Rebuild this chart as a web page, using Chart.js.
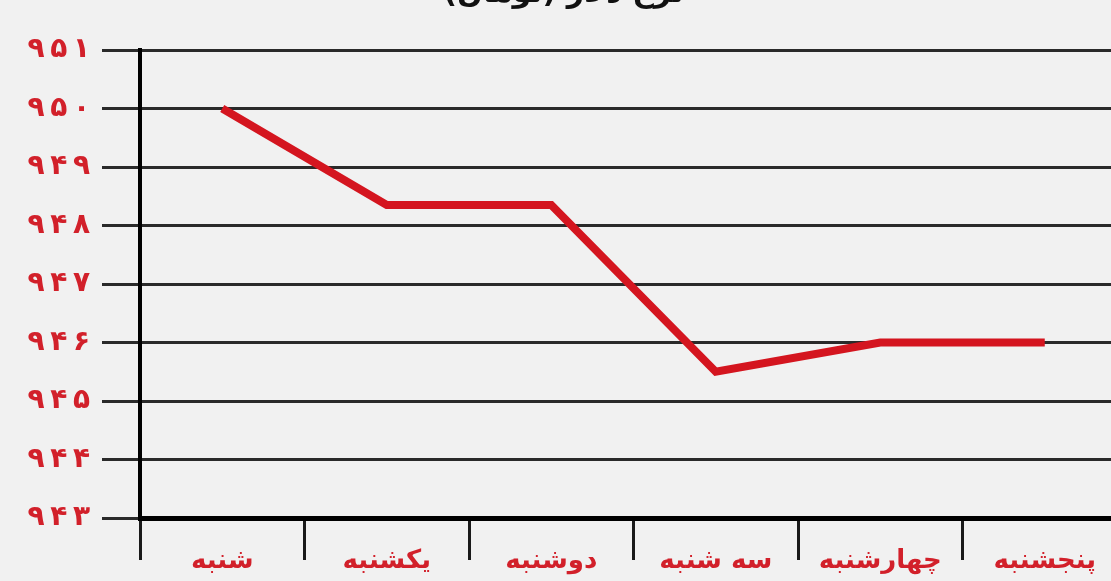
<!DOCTYPE html>
<html lang="fa">
<head>
<meta charset="utf-8">
<script src="https://cdn.jsdelivr.net/npm/chart.js@4"></script>
<style>
  html, body { margin: 0; padding: 0; background: #f1f1f1; overflow: hidden; }
  #wrap { position: absolute; left: 0; top: -28px; width: 1130px; height: 609px; }
</style>
</head>
<body>
<div id="wrap"><canvas id="chart1"></canvas></div>
<script>
// days of the week (Saturday .. Thursday)
const days = ['شنبه', 'یکشنبه', 'دوشنبه', 'سه شنبه', 'چهارشنبه', 'پنجشنبه'];
const prices = [950, 948.35, 948.35, 945.5, 946, 946];
const yMin = 943;
const yMax = 951;

const faDigits = '۰۱۲۳۴۵۶۷۸۹';
function toFa(n) {
    // persian digits with a thin gap, like the original artwork
    return String(n).replace(/\d/g, d => faDigits[d]).split('').join('\u2009');
}

const red = '#d2202a';

var ctx1 = document.getElementById('chart1').getContext('2d');

var chart1 = new Chart(ctx1, {
    type: 'line',
    data: {
        labels: days,
        datasets: [{
            data: prices,
            borderColor: '#d4151f',
            borderWidth: 8,
            pointRadius: 0,
            tension: 0,
            fill: false
        }]
    },
    options: {
        responsive: true,
        maintainAspectRatio: false,
        animation: false,
        layout: { padding: { left: 0, right: 3, top: 0, bottom: 0 } },
        plugins: {
            legend: { display: false },
            tooltip: { enabled: false },
            title: {
                display: true,
                text: 'نرخ دلار (تومان)',
                color: '#111',
                font: { family: 'DejaVu Sans', size: 30, weight: 'bold', lineHeight: 1.2 },
                padding: { top: 4, bottom: 38 }
            }
        },
        scales: {
            x: {
                offset: true,
                afterFit: s => { s.height = 63; },
                border: { color: '#000', width: 5 },
                grid: {
                    offset: true,
                    drawOnChartArea: false,
                    drawTicks: true,
                    tickLength: 42,
                    color: '#1a1a1a',
                    lineWidth: 3
                },
                ticks: {
                    color: red,
                    padding: -14,
                    maxRotation: 0,
                    font: { family: 'DejaVu Sans', size: 26, weight: 'bold' }
                }
            },
            y: {
                min: yMin,
                max: yMax,
                afterFit: s => { s.width = 140; },
                border: { color: '#000', width: 4 },
                grid: {
                    color: '#2a2a2a',
                    lineWidth: 3,
                    tickLength: 38
                },
                ticks: {
                    stepSize: 1,
                    color: red,
                    padding: 12,
                    font: { family: 'DejaVu Sans', size: 28, weight: 'bold' },
                    callback: v => toFa(v)
                }
            }
        }
    }
});
</script>
</body>
</html>
